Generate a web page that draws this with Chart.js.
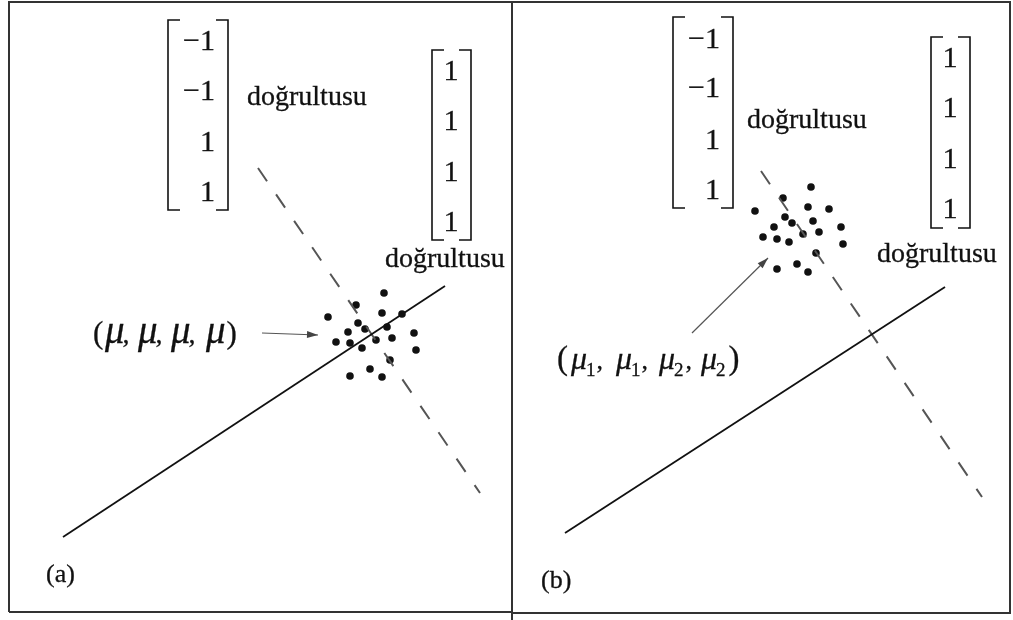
<!DOCTYPE html>
<html>
<head>
<meta charset="utf-8">
<script src="https://cdn.jsdelivr.net/npm/chart.js@4.4.1/dist/chart.umd.min.js"></script>
<style>
  html, body { margin: 0; padding: 0; background: #fff; }
  #wrap { width: 1013px; height: 620px; }
</style>
</head>
<body>
<div id="wrap"><canvas id="diagram" width="1013" height="620"></canvas></div>
<script>
// point clouds (picture coordinates, y grows downward)
const leftCloudX  = [384, 356, 328, 382, 402, 358, 365, 387, 348, 414, 336, 350, 376, 392, 362, 416, 390, 370, 350, 382];
const leftCloudY  = [293, 305, 317, 313, 314, 323, 329, 327, 332, 333, 342, 343, 340, 338, 348, 350, 360, 369, 376, 377];
const rightCloudX = [811, 783, 755, 808, 829, 785, 792, 813, 774, 841, 763, 777, 803, 819, 789, 843, 816, 797, 777, 808];
const rightCloudY = [187, 198, 211, 207, 209, 217, 223, 221, 227, 227, 237, 239, 234, 232, 242, 244, 253, 264, 269, 272];

// direction lines
const solidAX = [63, 445],  solidAY = [537, 286];
const dashAX  = [258, 480], dashAY  = [168, 493];
const solidBX = [565, 945], solidBY = [533, 287];
const dashBX  = [761, 982], dashBY  = [171, 497];

// arrows pointing at the cloud centres
const arrowAX = [262, 318], arrowAY = [333, 335];
const arrowBX = [692, 768], arrowBY = [333, 258];

// panel frames
const frameX = [9, 9, 1010, 1010, 512];
const frameY = [612, 2, 2, 613, 613];
const frameBottomAX = [9, 512], frameBottomAY = [612, 612];
const dividerX = [512, 512], dividerY = [2, 620];

// vectors written as column matrices
const matrixA1 = ['\u22121', '\u22121', '1', '1'];
const matrixA2 = ['1', '1', '1', '1'];
const matrixB1 = ['\u22121', '\u22121', '1', '1'];
const matrixB2 = ['1', '1', '1', '1'];

const dirWord = 'doğrultusu';

function toPts(xs, ys) {
    return xs.map((x, i) => ({ x: x, y: ys[i] }));
}

function lineSet(xs, ys, color, width, dash) {
    return {
        type: 'line',
        data: toPts(xs, ys),
        borderColor: color,
        borderWidth: width,
        borderDash: dash || [],
        pointRadius: 0,
        fill: false,
        tension: 0
    };
}

const FONT = '"Liberation Serif", "Times New Roman", serif';

// text with a thin outline so it looks as heavy as the scanned figure
function heavyText(ctx, t, x, y) {
    ctx.fillText(t, x, y);
    ctx.lineWidth = 0.3;
    ctx.strokeStyle = ctx.fillStyle;
    ctx.strokeText(t, x, y);
}

// draws a column vector with square brackets
function drawMatrix(ctx, sx, sy, entries, left, right, top, bottom, alignX, baselines, align) {
    ctx.save();
    ctx.strokeStyle = '#111';
    ctx.lineWidth = 1.6;
    const l = sx(left), r = sx(right), t = sy(top), b = sy(bottom);
    ctx.beginPath();
    ctx.moveTo(l + 12, t); ctx.lineTo(l, t); ctx.lineTo(l, b); ctx.lineTo(l + 12, b);
    ctx.moveTo(r - 12, t); ctx.lineTo(r, t); ctx.lineTo(r, b); ctx.lineTo(r - 12, b);
    ctx.stroke();
    ctx.fillStyle = '#111';
    ctx.font = '30px ' + FONT;
    ctx.textAlign = align;
    ctx.textBaseline = 'alphabetic';
    entries.forEach((e, i) => heavyText(ctx, e, sx(alignX), sy(baselines[i])));
    ctx.restore();
}

// draws text made of runs: a run either sits at offset dx or follows the previous run
function drawRuns(ctx, runs, x, y) {
    ctx.save();
    ctx.fillStyle = '#111';
    ctx.textAlign = 'left';
    ctx.textBaseline = 'alphabetic';
    let end = x;
    runs.forEach(run => {
        ctx.font = (run.it ? 'italic ' : '') + run.size + 'px ' + FONT;
        const rx = run.dx !== undefined ? x + run.dx : end + (run.after || 0);
        heavyText(ctx, run.t, rx, y + (run.dy || 0));
        end = rx + ctx.measureText(run.t).width;
    });
    ctx.restore();
}

const muRuns = [
    { t: '(', dx: 0, size: 31 },
    { t: 'μ', dx: 12, size: 39, it: true }, { t: ',', after: -2, size: 28 },
    { t: 'μ', dx: 45, size: 39, it: true }, { t: ',', after: -2, size: 28 },
    { t: 'μ', dx: 78, size: 39, it: true }, { t: ',', after: -2, size: 28 },
    { t: 'μ', dx: 113, size: 39, it: true },
    { t: ')', after: 1, size: 31 }
];
const muSubRuns = [
    { t: '(', dx: 0, size: 33 },
    { t: 'μ', dx: 14, size: 32, it: true }, { t: '1', after: -1, dy: 7, size: 19 }, { t: ',', after: 1, size: 26 },
    { t: 'μ', dx: 59, size: 32, it: true }, { t: '1', after: -1, dy: 7, size: 19 }, { t: ',', after: 1, size: 26 },
    { t: 'μ', dx: 102, size: 32, it: true }, { t: '2', after: -1, dy: 7, size: 19 }, { t: ',', after: 2, size: 26 },
    { t: 'μ', dx: 144, size: 32, it: true }, { t: '2', after: -1, dy: 7, size: 19 },
    { t: ')', after: 3, size: 33 }
];

const diagramPlugin = {
    id: 'diagramText',
    afterDatasetsDraw(chart) {
        const ctx = chart.ctx;
        const sx = v => chart.scales.x.getPixelForValue(v);
        const sy = v => chart.scales.y.getPixelForValue(v);

        // arrow heads
        [[arrowAX, arrowAY], [arrowBX, arrowBY]].forEach(([xs, ys]) => {
            const x1 = sx(xs[0]), y1 = sy(ys[0]), x2 = sx(xs[1]), y2 = sy(ys[1]);
            const a = Math.atan2(y2 - y1, x2 - x1);
            ctx.save();
            ctx.fillStyle = '#444';
            ctx.translate(x2, y2);
            ctx.rotate(a);
            ctx.beginPath();
            ctx.moveTo(0, 0); ctx.lineTo(-11, -3.5); ctx.lineTo(-11, 3.5);
            ctx.closePath();
            ctx.fill();
            ctx.restore();
        });

        // matrices
        drawMatrix(ctx, sx, sy, matrixA1, 168, 228, 20, 210, 215, [50, 100, 151, 201], 'right');
        drawMatrix(ctx, sx, sy, matrixA2, 432, 471, 50, 240, 451, [80, 130, 181, 231], 'center');
        drawMatrix(ctx, sx, sy, matrixB1, 673, 733, 17, 208, 720, [48, 97, 149, 199], 'right');
        drawMatrix(ctx, sx, sy, matrixB2, 931, 970, 37, 228, 950, [67, 117, 168, 218], 'center');

        // words
        ctx.save();
        ctx.fillStyle = '#111';
        ctx.font = '28px ' + FONT;
        ctx.textAlign = 'left';
        ctx.textBaseline = 'alphabetic';
        heavyText(ctx, dirWord, sx(247), sy(105));
        heavyText(ctx, dirWord, sx(385), sy(267));
        heavyText(ctx, dirWord, sx(747), sy(128));
        heavyText(ctx, dirWord, sx(877), sy(262));
        ctx.font = '26px ' + FONT;
        heavyText(ctx, '(a)', sx(46), sy(582));
        heavyText(ctx, '(b)', sx(541), sy(588));
        ctx.restore();

        drawRuns(ctx, muRuns, sx(93), sy(343));
        drawRuns(ctx, muSubRuns, sx(557), sy(369));
    }
};

document.addEventListener('DOMContentLoaded', function() {
    const canvas = document.getElementById('diagram');
    const ctx = canvas.getContext('2d');

    new Chart(ctx, {
        type: 'scatter',
        data: {
            datasets: [
                lineSet(frameX, frameY, '#333', 2),
                lineSet(frameBottomAX, frameBottomAY, '#333', 2),
                lineSet(dividerX, dividerY, '#333', 2),
                lineSet(solidAX, solidAY, '#111', 1.8),
                lineSet(dashAX, dashAY, '#555', 2, [16, 16]),
                lineSet(solidBX, solidBY, '#111', 1.8),
                lineSet(dashBX, dashBY, '#555', 2, [16, 16]),
                lineSet(arrowAX, arrowAY, '#555', 1.2),
                lineSet(arrowBX, arrowBY, '#555', 1.2),
                {
                    data: toPts(leftCloudX, leftCloudY),
                    backgroundColor: '#111',
                    borderWidth: 0,
                    pointRadius: 3.8
                },
                {
                    data: toPts(rightCloudX, rightCloudY),
                    backgroundColor: '#111',
                    borderWidth: 0,
                    pointRadius: 3.8
                }
            ]
        },
        options: {
            responsive: false,
            animation: false,
            devicePixelRatio: 1,
            layout: { padding: 0, autoPadding: false },
            plugins: {
                legend: { display: false },
                tooltip: { enabled: false }
            },
            scales: {
                x: { type: 'linear', min: 0, max: 1013, display: false },
                y: { type: 'linear', min: 0, max: 620, reverse: true, display: false }
            }
        },
        plugins: [diagramPlugin]
    });
});
</script>
</body>
</html>
